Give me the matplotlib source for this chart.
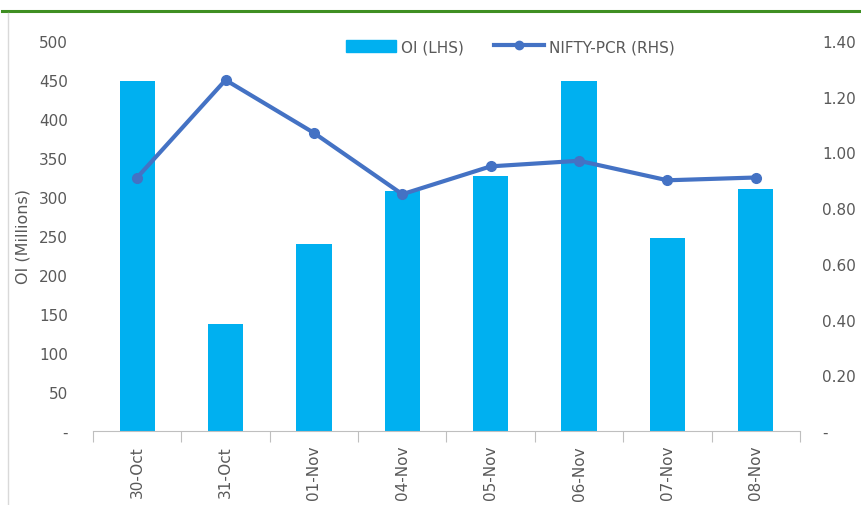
import numpy as np
import matplotlib
matplotlib.use("Agg")
import matplotlib.pyplot as plt
from matplotlib.lines import Line2D

# data
dates = ['30-Oct', '31-Oct', '01-Nov', '04-Nov', '05-Nov', '06-Nov', '07-Nov', '08-Nov']
oi_millions = [449, 137, 240, 308, 327, 449, 247, 310]
nifty_pcr = [0.91, 1.26, 1.07, 0.85, 0.95, 0.97, 0.90, 0.91]

bar_color = '#00B0F0'
line_color = '#4472C4'
text_color = '#595959'

plt.rcParams['font.family'] = ['DejaVu Sans']

fig = plt.figure(figsize=(8.62, 5.06), dpi=100)
ax1 = fig.add_axes([93 / 862, 1 - 432 / 506, 707 / 862, 390 / 506])
x = np.arange(len(dates))

# bars for OI (left axis)
ax1.bar(x, oi_millions, width=0.4, color=bar_color, label='OI (LHS)', zorder=2)
ax1.set_xlim(-0.5, len(dates) - 0.5)
ax1.set_ylim(0, 500)
ax1.set_yticks(np.arange(0, 501, 50))
ax1.set_yticklabels(['-'] + [str(v) for v in range(50, 501, 50)])
ax1.set_xticks(x)
ax1.set_xticklabels(dates, rotation=90)
ax1.set_xticks(np.arange(-0.5, len(dates), 1), minor=True)
ax1.tick_params(axis='x', which='major', length=0, pad=10, labelsize=11, labelcolor=text_color)
ax1.tick_params(axis='x', which='minor', length=8, width=0.8, color='#BFBFBF')
ax1.tick_params(axis='y', length=0, pad=18, labelsize=11, labelcolor=text_color)
ax1.set_ylabel('OI (Millions)', fontsize=11.5, color=text_color)
ax1.yaxis.set_label_coords(-0.088, 0.5)
for s in ['top', 'left', 'right']:
    ax1.spines[s].set_visible(False)
ax1.spines['bottom'].set_color('#BFBFBF')

# PCR line (right axis)
ax2 = ax1.twinx()
ax2.plot(x, nifty_pcr, color=line_color, linewidth=3, marker='o', markersize=7,
         label='NIFTY-PCR (RHS)', zorder=3)
ax2.set_ylim(0, 1.4)
ax2.set_yticks(np.arange(0, 1.41, 0.2))
ax2.set_yticklabels(['-'] + ['%.2f' % v for v in np.arange(0.2, 1.41, 0.2)])
ax2.tick_params(axis='y', length=0, pad=16, labelsize=11, labelcolor=text_color)
for s in ['top', 'left', 'right', 'bottom']:
    ax2.spines[s].set_visible(False)

# legend
handles = [plt.Rectangle((0, 0), 1, 1, color=bar_color),
           Line2D([0], [0], color=line_color, linewidth=3, marker='o', markersize=6)]
ax1.legend(handles, ['OI (LHS)', 'NIFTY-PCR (RHS)'], loc='upper center',
           bbox_to_anchor=(0.59, 1.04), ncol=2, frameon=False, fontsize=11,
           labelcolor=text_color, handlelength=3.3, handleheight=0.9,
           columnspacing=2.0, handletextpad=0.3)

# frame around the figure
fig.add_artist(Line2D([0.002, 1.0], [1 - 12 / 506, 1 - 12 / 506], color='#3F8F22', linewidth=2.2))
fig.add_artist(Line2D([8 / 862, 8 / 862], [0, 1 - 14 / 506], color='#D9D9D9', linewidth=1))

fig.savefig('out.png', dpi=100)
